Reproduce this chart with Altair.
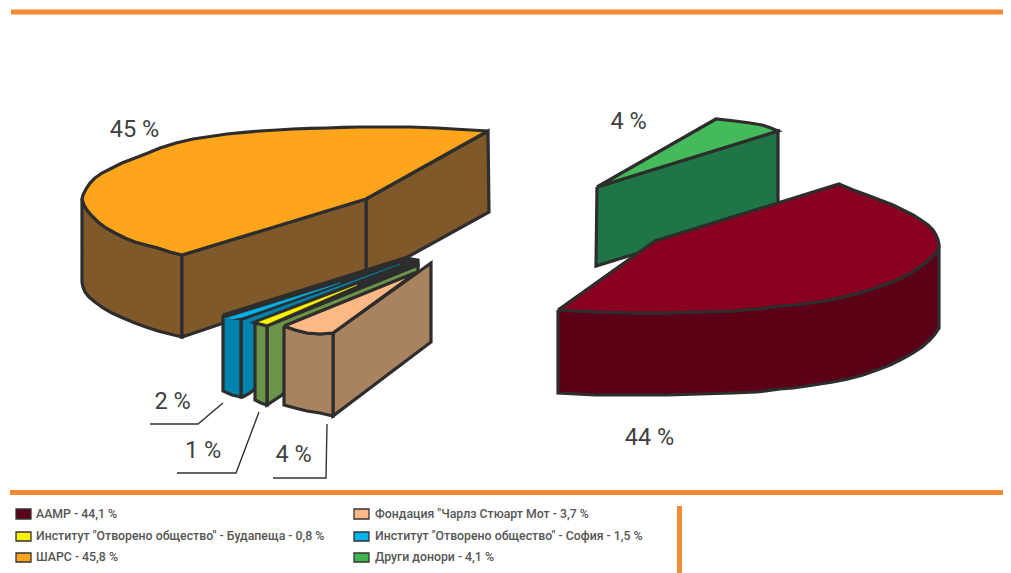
import altair as alt
import pandas as pd

W, H = 995, 565
DARK = "#2d2d2d"
BAR = "#F68B33"
FONT = "Roboto"

# polygon outlines: (x, y) lists
orange_back_arc = [(488,131),(462,129.5),(437,128),(410,127),(385,127),(360,127),(343,127.4),(327,128),(310,128.4),(293,129),(277,130),(260,131),(244,132.3),(227,134),(210,136.5),(193,139),(176,143),(160,148),(148,153),(135,158),(122,163),(112,168),(102,173),(95,178),(90,183),(86,189),(83,195),(82,199)]
orange_front_arc = [(82,199),(84,205),(87,210),(92,216),(98,222),(106,228),(115,233),(125,238),(135,242),(146,245),(158,248),(170,252),(182,255)]
brown_low_arc = [(182,337),(170,334),(158,331),(146,327),(135,323),(123,318),(112,313),(103,308),(95,302),(89,297),(85,292),(83,287),(82,282),(82,199)]
orange_top = orange_back_arc + orange_front_arc[1:] + [(366,199),(488,131)]
brown_left = orange_front_arc + brown_low_arc
brown_front = [(182,255),(366,199),(366,275),(182,337),(182,255)]
brown_back = [(366,199),(488,131),(489,212),(366,280),(366,199)]

blue_front = [(223,315),(233,318),(241,319),(241,397),(232,395),(223,391),(223,315)]
blue_wall = [(241,319),(410,262),(416,264),(250,393),(243,397),(241,397),(241,319)]
dark_band = [(223,315),(405,258),(418,260),(418,266),(268,325),(255,323),(243,318),(233,318),(223,315)]
cyan_top = [(227,318),(340,283),(243,317),(233,319),(227,318)]
blue_strip = [(245,320),(400,264),(255,320),(245,324),(245,320)]

green_front = [(255,323),(267,326),(267,405),(261,403),(255,400),(255,323)]
green_wall = [(267,326),(418,265),(418,272),(282,395),(267,405),(267,326)]
yellow_top = [(259,322),(357,285),(267,324),(259,322)]

tan_front = [(284,326),(295,330),(307,333),(320,334),(333,333),(333,416),(320,413),(307,411),(295,408),(284,405),(284,326)]
tan_wall = [(333,333),(431,263),(431,342),(333,416),(333,333)]
peach_top = [(284,326),(295,330),(307,333),(320,334),(333,333),(417,272),(284,326)]

green2_wall = [(597,187),(778,131),(778,210),(596,266),(597,187)]
green2_top = [(597,187),(716,119),(735,121),(750,123),(762,125),(771,128),(778,131),(597,187)]

red_front_arc = [(558,310),(595,312),(633,313),(667,313),(700,312),(733,311),(757,309),(780,306),(795,305),(810,303),(825,301),(840,298),(855,294),(870,290),(884,285),(897,280),(909,274),(920,267),(929,260),(937,252),(939,245)]
red_low_arc = [(939,328),(935,334),(930,340),(922,347),(913,353),(902,359),(890,365),(877,370),(863,375),(848,379),(833,382),(820,384),(807,386),(793,388),(780,389),(757,392),(733,393),(700,394),(667,395),(633,395),(595,395),(558,393),(558,310)]
red_back_arc = [(939,245),(938,240),(936,235),(933,230),(928,225),(921,220),(913,215),(903,210),(893,205),(880,200),(867,195),(853,190),(839,184),(655,241),(558,310)]
red_wall = red_front_arc + red_low_arc
red_top = red_front_arc + red_back_arc

polygons = [
    (green2_wall, "#1E7546"), (green2_top, "#45BA5A"),
    (red_wall, "#5C0018"), (red_top, "#8A0021"),
    (brown_left, "#80592A"), (brown_back, "#80592A"), (brown_front, "#80592A"), (orange_top, "#FFA51C"),
    (blue_wall, "#0083AC"), (blue_front, "#0083AC"), (dark_band, DARK),
    (green_wall, "#6B9449"), (green_front, "#6B9449"),
    (tan_wall, "#A9825F"), (tan_front, "#A9825F"), (peach_top, "#FDB985"),
]
slivers = [(cyan_top, "#00B4EB"), (blue_strip, "#0083AC"), (yellow_top, "#FFF200")]

leaders = [
    [(223,403),(198,424),(150,424)],
    [(259,412),(236,473),(177,473)],
    [(327,424),(326,478),(273,478)],
]
pct_labels = ["45 %", "4 %", "44 %", "2 %", "1 %", "4 %"]
pct_x = [134.5, 628.5, 649.5, 172.5, 203, 293.5]
pct_y = [130, 122, 438, 402, 451, 455]

legend_labels = ["ААМР - 44,1 %", "Институт \"Отворено общество\" - Будапеща - 0,8 %", "ШАРС - 45,8 %",
                 "Фондация \"Чарлз Стюарт Мот - 3,7 %", "Институт \"Отворено общество\" - София - 1,5 %", "Други донори - 4,1 %"]
legend_colors = ["#5C0018", "#FFF200", "#FFA51C", "#FDB985", "#00B4EB", "#3FB54F"]
swatch_x = [16, 16, 16, 354, 354, 354]
swatch_x2 = [31, 31, 31, 369, 369, 369]
swatch_y = [509, 532, 553, 509, 532, 553]
swatch_y2 = [519, 541, 562, 519, 541, 562]
text_x = [36, 36, 36, 375, 375, 375]
text_y = [514, 536, 557, 514, 536, 557]

bar_x = [11, 10, 679.5]
bar_x2 = [1003, 1003, 679.5]
bar_y = [12, 492.5, 506]
bar_y2 = [12, 492.5, 573]

xs = alt.Scale(domain=[8, 8 + W], range=[0, W])
ys = alt.Scale(domain=[573, 8], range=[H, 0])
X = alt.X("x:Q", scale=xs, axis=None)
Y = alt.Y("y:Q", scale=ys, axis=None)


def frame(pts):
    return pd.DataFrame({"x": [p[0] for p in pts], "y": [p[1] for p in pts], "i": range(len(pts))})


layers = []
for pts, col in polygons:
    layers.append(alt.Chart(frame(pts)).mark_line(fill=col, stroke=DARK, strokeWidth=3.2, strokeJoin="miter", strokeMiterLimit=3)
                  .encode(x=X, y=Y, order="i:Q"))
for pts, col in slivers:
    layers.append(alt.Chart(frame(pts)).mark_line(fill=col, stroke=col, strokeWidth=0.5)
                  .encode(x=X, y=Y, order="i:Q"))
for pts in leaders:
    layers.append(alt.Chart(frame(pts)).mark_line(stroke="#333333", strokeWidth=1.4)
                  .encode(x=X, y=Y, order="i:Q"))

bars = pd.DataFrame({"x": bar_x, "x2": bar_x2, "y": bar_y, "y2": bar_y2})
layers.append(alt.Chart(bars).mark_rule(color=BAR, strokeWidth=5).encode(x=X, x2="x2:Q", y=Y, y2="y2:Q"))

swatches = pd.DataFrame({"x": swatch_x, "x2": swatch_x2, "y": swatch_y, "y2": swatch_y2, "c": legend_colors})
layers.append(alt.Chart(swatches).mark_rect(stroke="#333333", strokeWidth=1.3)
              .encode(x=X, x2="x2:Q", y=Y, y2="y2:Q", fill=alt.Fill("c:N", scale=None)))

legend_df = pd.DataFrame({"x": text_x, "y": text_y, "t": legend_labels})
layers.append(alt.Chart(legend_df).mark_text(align="left", baseline="middle", font=FONT, fontSize=12.3, fontWeight=500, color="#555555")
              .encode(x=X, y=Y, text="t:N"))

pct_df = pd.DataFrame({"x": pct_x, "y": pct_y, "t": pct_labels})
layers.append(alt.Chart(pct_df).mark_text(align="center", baseline="middle", font=FONT, fontSize=23.5, color="#404040")
              .encode(x=X, y=Y, text="t:N"))

chart = alt.layer(*layers).properties(width=W, height=H, padding=0, autosize=alt.AutoSizeParams(type="none")).configure_view(stroke=None)
chart.save("out.html", embed_options={"renderer": "svg", "actions": False})
